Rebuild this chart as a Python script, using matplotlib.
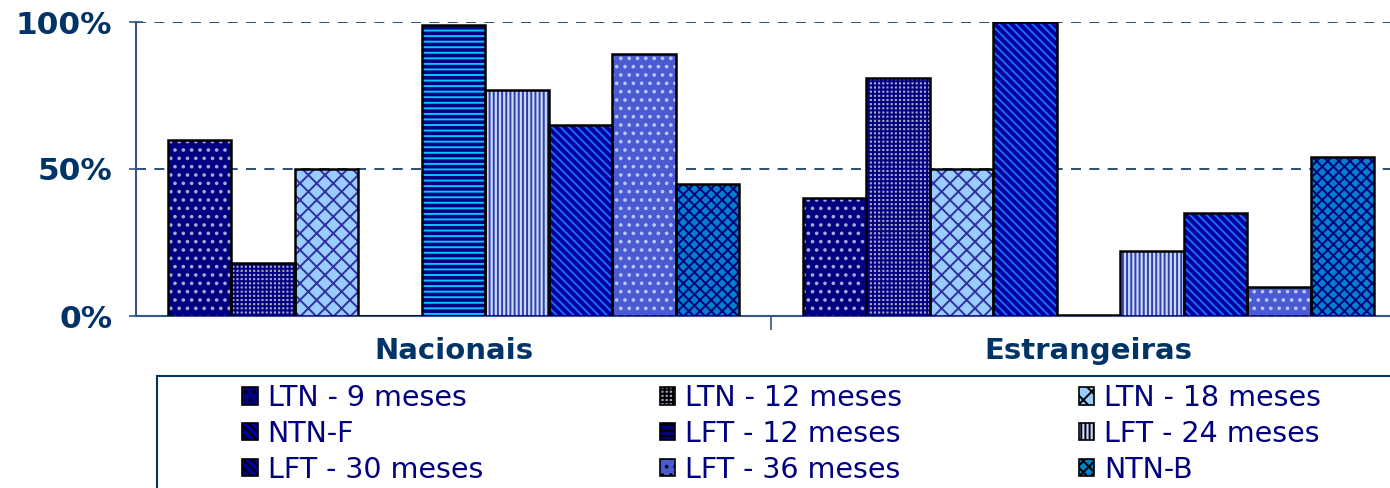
import matplotlib
matplotlib.use("Agg")
import matplotlib.pyplot as plt
from matplotlib.patches import Patch, Rectangle
import numpy as np

# data
groups = ["Nacionais", "Estrangeiras"]
series = ["LTN - 9 meses", "LTN - 12 meses", "LTN - 18 meses",
          "NTN-F", "LFT - 12 meses", "LFT - 24 meses",
          "LFT - 30 meses", "LFT - 36 meses", "NTN-B"]
nacionais = [0.60, 0.18, 0.50, 0.0, 0.99, 0.77, 0.65, 0.89, 0.45]
estrangeiras = [0.40, 0.81, 0.50, 1.00, 0.005, 0.22, 0.35, 0.10, 0.54]
values = np.array([nacionais, estrangeiras])

# face colour, hatch, hatch colour per series
styles = [
    ("#000080", "..", "#a8a8d8"),
    ("#a4a4c4", "++++", "#000080"),
    ("#99ccff", "xx", "#3030a0"),
    ("#000099", "\\\\\\\\", "#1a6cff"),
    ("#000080", "---", "#00c8ff"),
    ("#c8d8ff", "||||", "#3040a8"),
    ("#000099", "\\\\\\\\", "#1a6cff"),
    ("#4a5ad0", "..", "#b8c8ff"),
    ("#0080c8", "xxx", "#000080"),
]

navy = "#003366"
plt.rcParams["font.family"] = ["DejaVu Sans"]
plt.rcParams["hatch.linewidth"] = 1.4

fig = plt.figure(figsize=(13.9, 4.88), dpi=100)
ax = fig.add_axes([136 / 1390, 172 / 488, 1270 / 1390, 294 / 488])

x = np.arange(len(groups))
w = 0.1
for i, name in enumerate(series):
    fc, h, hc = styles[i]
    pos = x + (i - 4) * w
    ax.bar(pos, values[:, i], width=w, color=fc, hatch=h, edgecolor=hc,
           linewidth=0, zorder=3)
    ax.bar(pos, values[:, i], width=w, color="none", edgecolor="black",
           linewidth=1.8, zorder=4)

ax.set_xlim(-0.5, 1.5)
ax.set_ylim(0, 1)
ax.set_yticks([0, 0.5, 1.0])
ax.set_yticklabels(["0%", "50%", "100%"], fontsize=22.5, fontweight="bold",
                   color=navy)
ax.tick_params(axis="y", direction="inout", length=10, color="#335588",
               width=1.2, pad=12)
ax.set_xticks([0.5])
ax.set_xticklabels([""])
ax.tick_params(axis="x", direction="out", length=10, color="#335588",
               width=1.2)
for xi, g in zip(x, groups):
    ax.text(xi, -0.07, g, ha="center", va="top", fontsize=21,
            fontweight="bold", color=navy, transform=ax.get_xaxis_transform())

ax.yaxis.grid(True, linestyle=(0, (6, 5)), color=navy, linewidth=1.2,
              zorder=0)
for s in ["top", "right"]:
    ax.spines[s].set_visible(False)
for s in ["left", "bottom"]:
    ax.spines[s].set_color("#335588")
    ax.spines[s].set_linewidth(1.5)

# legend box
fig.patches.append(Rectangle((157 / 1390, -0.1), 1.1, (488 - 376) / 488 + 0.1,
                             transform=fig.transFigure, fill=False,
                             edgecolor=navy, linewidth=1.5))
handles = []
for i, name in enumerate(series):
    fc, h, hc = styles[i]
    handles.append(Patch(facecolor=fc, hatch=h, edgecolor="black",
                         linewidth=1.2, label=name))
# legend fills column by column; reorder so rows read left to right
order = [0, 3, 6, 1, 4, 7, 2, 5, 8]
leg = fig.legend(handles=[handles[k] for k in order], ncol=3, loc="upper left",
                 bbox_to_anchor=(242 / 1390, 1 - 384 / 488), frameon=False,
                 fontsize=20.5, handlelength=0.55, handleheight=0.55,
                 handletextpad=0.35, columnspacing=6.2, labelspacing=0.28,
                 borderpad=0, borderaxespad=0)
for t in leg.get_texts():
    t.set_color("#000080")

fig.savefig("out.png", dpi=100)
